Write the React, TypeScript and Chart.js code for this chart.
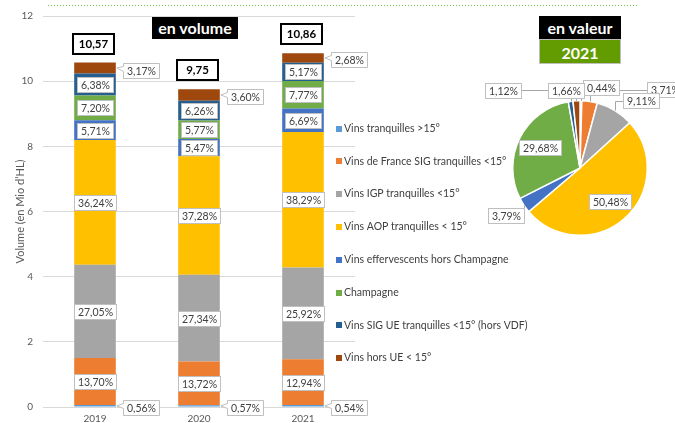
import React, { useEffect, useRef } from 'react';
import { Chart, registerables } from 'chart.js';
Chart.register(...registerables);

const FONT = 'Lato, "Open Sans", sans-serif';

const years = ['2019', '2020', '2021'];
const totals = [10.57, 9.75, 10.86];
const seriesNames = [
  'Vins tranquilles >15°',
  'Vins de France SIG tranquilles <15°',
  'Vins IGP tranquilles <15°',
  'Vins AOP tranquilles < 15°',
  'Vins effervescents hors Champagne',
  'Champagne',
  'Vins SIG UE tranquilles <15° (hors VDF)',
  'Vins hors UE < 15°',
];
const seriesColors = ['#5B9BD5', '#ED7D31', '#A5A5A5', '#FFC000', '#4472C4', '#70AD47', '#255E91', '#9E480E'];

const pctTranquilles15 = [0.56, 0.57, 0.54];
const pctVdfSig = [13.7, 13.72, 12.94];
const pctIgp = [27.05, 27.34, 25.92];
const pctAop = [36.24, 37.28, 38.29];
const pctEffervescents = [5.71, 5.47, 6.69];
const pctChampagne = [7.2, 5.77, 7.77];
const pctSigUe = [6.38, 6.26, 5.17];
const pctHorsUe = [3.17, 3.6, 2.68];
const pctSeries = [pctTranquilles15, pctVdfSig, pctIgp, pctAop, pctEffervescents, pctChampagne, pctSigUe, pctHorsUe];

const pieValeur2021 = [0.44, 3.71, 9.11, 50.48, 3.79, 29.68, 1.12, 1.66];

const yMin = 0;
const yMax = 12;
const yStep = 2;

// label placement for pie (relative to center, in radius units); null = inside
const pieLabelPlacement: ({ dx: number; dy: number } | null)[] = [
  { dx: 0.316, dy: -1.199 },
  { dx: 1.265, dy: -1.162 },
  { dx: 0.912, dy: -1.0 },
  null,
  { dx: -1.096, dy: 0.713 },
  null,
  { dx: -1.147, dy: -1.154 },
  { dx: -0.213, dy: -1.154 },
];

const LABEL_FONT = `10.5px ${FONT}`;
const fmt = (v: number) => v.toFixed(2).replace('.', ',') + '%';

function drawLabelBox(ctx: CanvasRenderingContext2D, text: string, cx: number, cy: number) {
  const w = Math.round(ctx.measureText(text).width + 7);
  const h = 15;
  const x = Math.round(cx - w / 2) + 0.5;
  const y = Math.round(cy - h / 2) + 0.5;
  ctx.fillStyle = '#ffffff';
  ctx.fillRect(x, y, w, h);
  ctx.strokeStyle = '#bfbfbf';
  ctx.lineWidth = 1;
  ctx.strokeRect(x, y, w, h);
  ctx.fillStyle = '#404040';
  ctx.textAlign = 'center';
  ctx.textBaseline = 'middle';
  ctx.fillText(text, x + w / 2, y + h / 2 + 0.5);
}

const barLabelsPlugin = {
  id: 'barLabels',
  afterDatasetsDraw(chart: any) {
    const ctx: CanvasRenderingContext2D = chart.ctx;
    ctx.save();
    ctx.font = LABEL_FONT;
    chart.data.datasets.forEach((_ds: any, i: number) => {
      const meta = chart.getDatasetMeta(i);
      meta.data.forEach((el: any, j: number) => {
        const p = el.getProps(['x', 'y', 'base', 'width'], true);
        const top = Math.min(p.y, p.base);
        const bot = Math.max(p.y, p.base);
        const h = bot - top;
        const text = fmt(pctSeries[i][j]);
        const cy = (top + bot) / 2;
        if (h >= 14) {
          drawLabelBox(ctx, text, p.x, cy);
        } else {
          const barRight = p.x + p.width / 2;
          const w = Math.round(ctx.measureText(text).width + 7);
          const bh = 15;
          const bx = Math.round(barRight + 7) + 0.5;
          const by = Math.round(cy - bh / 2 + 2) + 0.5;
          ctx.beginPath();
          ctx.moveTo(bx, by);
          ctx.lineTo(bx + w, by);
          ctx.lineTo(bx + w, by + bh);
          ctx.lineTo(bx, by + bh);
          ctx.lineTo(bx, by + 8);
          ctx.lineTo(barRight + 1, cy);
          ctx.lineTo(bx, by + 3);
          ctx.closePath();
          ctx.fillStyle = '#ffffff';
          ctx.fill();
          ctx.strokeStyle = '#bfbfbf';
          ctx.lineWidth = 1;
          ctx.stroke();
          ctx.fillStyle = '#404040';
          ctx.textAlign = 'center';
          ctx.textBaseline = 'middle';
          ctx.fillText(text, bx + w / 2, by + bh / 2 + 0.5);
        }
      });
    });
    // totals
    const lastMeta = chart.getDatasetMeta(chart.data.datasets.length - 1);
    ctx.font = `bold 11.5px ${FONT}`;
    lastMeta.data.forEach((el: any, j: number) => {
      const p = el.getProps(['x', 'y', 'base', 'width'], true);
      const top = Math.min(p.y, p.base);
      const w = 41;
      const h = 20;
      const x = Math.round(p.x - 2 - w / 2);
      const y = Math.round(top - 9 - h);
      ctx.fillStyle = '#ffffff';
      ctx.fillRect(x, y, w, h);
      ctx.strokeStyle = '#000000';
      ctx.lineWidth = 2;
      ctx.strokeRect(x, y, w, h);
      ctx.fillStyle = '#000000';
      ctx.textAlign = 'center';
      ctx.textBaseline = 'middle';
      ctx.fillText(totals[j].toFixed(2).replace('.', ','), x + w / 2, y + h / 2 + 0.5);
    });
    ctx.restore();
  },
  afterDraw(chart: any) {
    const ctx: CanvasRenderingContext2D = chart.ctx;
    ctx.save();
    ctx.font = `10.5px ${FONT}`;
    ctx.textAlign = 'left';
    ctx.textBaseline = 'middle';
    seriesNames.forEach((name, i) => {
      const cy = 128.5 + i * 32.8;
      ctx.fillStyle = seriesColors[i];
      ctx.fillRect(336, Math.round(cy - 3), 6, 6);
      ctx.fillStyle = '#404040';
      ctx.fillText(name, 344, cy);
    });
    ctx.restore();
  },
};

const pieLabelsPlugin = {
  id: 'pieLabels',
  afterDatasetsDraw(chart: any) {
    const ctx: CanvasRenderingContext2D = chart.ctx;
    const meta = chart.getDatasetMeta(0);
    ctx.save();
    ctx.font = LABEL_FONT;
    const items: any[] = [];
    meta.data.forEach((arc: any, i: number) => {
      const p = arc.getProps(['x', 'y', 'startAngle', 'endAngle', 'outerRadius'], true);
      const mid = (p.startAngle + p.endAngle) / 2;
      const text = fmt(pieValeur2021[i]);
      const place = pieLabelPlacement[i];
      if (!place) {
        items.push({ text, cx: p.x + Math.cos(mid) * p.outerRadius * 0.67, cy: p.y + Math.sin(mid) * p.outerRadius * 0.67 });
      } else {
        const cx = p.x + place.dx * p.outerRadius;
        const cy = p.y + place.dy * p.outerRadius;
        const ex = p.x + Math.cos(mid) * p.outerRadius;
        const ey = p.y + Math.sin(mid) * p.outerRadius;
        const w = ctx.measureText(text).width + 7;
        const left = cx - w / 2;
        const right = cx + w / 2;
        ctx.strokeStyle = '#a6a6a6';
        ctx.lineWidth = 1;
        ctx.beginPath();
        ctx.moveTo(Math.round(ex) + 0.5, ey);
        ctx.lineTo(Math.round(ex) + 0.5, Math.round(cy) + 0.5);
        if (ex < left) ctx.lineTo(left, Math.round(cy) + 0.5);
        else if (ex > right) ctx.lineTo(right, Math.round(cy) + 0.5);
        ctx.stroke();
        items.push({ text, cx, cy });
      }
    });
    items.forEach((it) => drawLabelBox(ctx, it.text, it.cx, it.cy));
    ctx.restore();
  },
};

export default function App() {
  const barRef = useRef<HTMLCanvasElement>(null);
  const pieRef = useRef<HTMLCanvasElement>(null);

  useEffect(() => {
    document.body.style.margin = '0';
    const bar = new Chart(barRef.current as HTMLCanvasElement, {
      type: 'bar',
      data: {
        labels: years,
        datasets: pctSeries.map((pcts, i) => ({
          label: seriesNames[i],
          data: pcts.map((p, j) => (totals[j] * p) / 100),
          backgroundColor: seriesColors[i],
          borderWidth: 0,
          barPercentage: 0.4,
          categoryPercentage: 1,
        })),
      },
      options: {
        animation: false,
        responsive: false,
        devicePixelRatio: 1,
        layout: { padding: { top: 15, right: 320, left: 0, bottom: 0 } },
        plugins: { legend: { display: false }, tooltip: { enabled: false } },
        scales: {
          x: {
            stacked: true,
            grid: { display: false, drawTicks: false },
            border: { display: false },
            ticks: { color: '#595959', font: { family: FONT, size: 10 }, padding: 6 },
            afterFit: (s: any) => { s.height = 15; },
          },
          y: {
            stacked: true,
            min: yMin,
            max: yMax,
            grid: { color: '#d9d9d9', drawTicks: false },
            border: { display: false },
            ticks: { stepSize: yStep, color: '#595959', font: { family: FONT, size: 10 }, padding: 10 },
            title: {
              display: true,
              text: 'Volume (en Mio d’HL)',
              color: '#595959',
              font: { family: FONT, size: 11 },
              padding: { top: 14, bottom: 0 },
            },
            afterFit: (s: any) => { s.width = 43; },
          },
        },
      },
      plugins: [barLabelsPlugin],
    });

    const pie = new Chart(pieRef.current as HTMLCanvasElement, {
      type: 'pie',
      data: {
        labels: seriesNames,
        datasets: [{ data: pieValeur2021, backgroundColor: seriesColors, borderColor: '#ffffff', borderWidth: 1.5 }],
      },
      options: {
        animation: false,
        responsive: false,
        devicePixelRatio: 1,
        layout: { padding: 32 },
        plugins: { legend: { display: false }, tooltip: { enabled: false } },
      },
      plugins: [pieLabelsPlugin],
    });

    return () => {
      bar.destroy();
      pie.destroy();
    };
  }, []);

  const boxBase: React.CSSProperties = {
    position: 'absolute',
    color: '#ffffff',
    fontFamily: FONT,
    fontWeight: 700,
    fontSize: 16,
    textAlign: 'center',
    boxSizing: 'border-box',
  };

  return (
    <div style={{ position: 'relative', width: 675, height: 423, overflow: 'hidden', background: '#ffffff' }}>
      <div
        style={{
          position: 'absolute',
          left: 48,
          top: 5,
          width: 590,
          height: 1,
          backgroundImage: 'linear-gradient(to right, #7cc242 50%, rgba(255,255,255,0) 50%)',
          backgroundSize: '3px 1px',
        }}
      />
      <canvas ref={barRef} width={675} height={423} style={{ position: 'absolute', left: 0, top: 0 }} />
      <canvas ref={pieRef} width={200} height={200} style={{ position: 'absolute', left: 480, top: 68 }} />
      <div style={{ ...boxBase, left: 152, top: 17, width: 86, height: 22, lineHeight: '22px', background: '#000000' }}>en volume</div>
      <div style={{ ...boxBase, left: 539, top: 16, width: 82, height: 23, lineHeight: '23px', background: '#000000' }}>en valeur</div>
      <div style={{ ...boxBase, left: 539, top: 39, width: 82, height: 25, lineHeight: '25px', background: '#639c00', border: '1px solid #bfbfbf' }}>2021</div>
    </div>
  );
}
